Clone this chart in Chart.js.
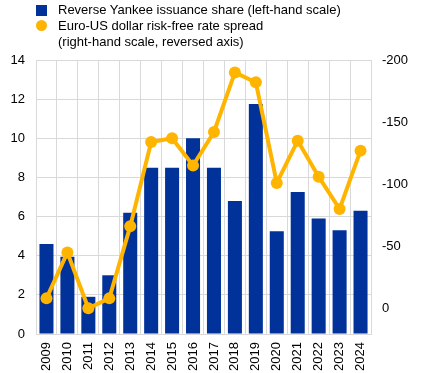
<!DOCTYPE html>
<html>
<head>
<meta charset="utf-8">
<script src="https://cdn.jsdelivr.net/npm/chart.js@4/dist/chart.umd.min.js"></script>
<style>
  html, body { margin: 0; padding: 0; background: #fff; }
  #wrap { position: relative; width: 437px; height: 373px; font-family: Arial, "Liberation Sans", sans-serif; }
  #legend { position: absolute; left: 0; top: 0; width: 437px; font-size: 13px; color: #000; }
  .item { position: absolute; left: 58px; line-height: 16px; white-space: nowrap; }
  .sq { position: absolute; width: 11px; height: 11px; background: #003299; left: 36px; top: 5px; }
  .dot { position: absolute; width: 11px; height: 11px; border-radius: 50%; background: #FFB400; left: 36px; top: 20px; }
  canvas { position: absolute; left: 0; top: 0; }
</style>
</head>
<body>
<div id="wrap">
  <canvas id="c" width="437" height="373"></canvas>
  <div id="legend">
    <div class="sq"></div>
    <div class="item" style="top:2px;">Reverse Yankee issuance share (left-hand scale)</div>
    <div class="dot"></div>
    <div class="item" style="top:18px;">Euro-US dollar risk-free rate spread<br>(right-hand scale, reversed axis)</div>
  </div>
</div>
<script>
const years = ["2009","2010","2011","2012","2013","2014","2015","2016","2017","2018","2019","2020","2021","2022","2023","2024"];
const yankeeShare = [4.6, 3.95, 1.9, 3.0, 6.2, 8.5, 8.5, 10.0, 8.5, 6.8, 11.75, 5.25, 7.25, 5.9, 5.3, 6.3];
const rateSpread = [-8, -45, 0, -8, -66, -134, -137, -115, -142, -190, -182, -101, -135, -106, -80, -127];
const leftTicks = [0, 2, 4, 6, 8, 10, 12, 14];
const rightTicks = [-200, -150, -100, -50, 0];

const FONT = { family: 'Arial, "Liberation Sans", sans-serif', size: 13 };

new Chart(document.getElementById('c'), {
  data: {
    labels: years,
    datasets: [
      {
        type: 'line',
        label: 'Euro-US dollar risk-free rate spread (right-hand scale, reversed axis)',
        data: rateSpread,
        yAxisID: 'y1',
        borderColor: '#FFB400',
        backgroundColor: '#FFB400',
        borderWidth: 4,
        pointRadius: 6,
        pointHoverRadius: 6,
        pointBackgroundColor: '#FFB400',
        pointBorderWidth: 0,
        tension: 0,
        order: 0
      },
      {
        type: 'bar',
        label: 'Reverse Yankee issuance share (left-hand scale)',
        data: yankeeShare,
        yAxisID: 'y',
        backgroundColor: '#003299',
        barPercentage: 0.67,
        categoryPercentage: 1.0,
        order: 1
      }
    ]
  },
  options: {
    responsive: false,
    animation: false,
    events: [],
    layout: { padding: { top: 60, left: 0, right: 0, bottom: 0 } },
    plugins: { legend: { display: false }, tooltip: { enabled: false } },
    scales: {
      x: {
        offset: true,
        grid: { color: '#d9d9d9', drawTicks: false, offset: true },
        border: { color: '#d9d9d9' },
        ticks: { color: '#000', font: FONT, maxRotation: 90, minRotation: 90, padding: 8, autoSkip: false },
        afterFit: (s) => { s.height = 39; }
      },
      y: {
        position: 'left',
        min: 0, max: 14,
        afterBuildTicks: (s) => { s.ticks = leftTicks.map(v => ({ value: v })); },
        grid: { color: '#d9d9d9', drawTicks: false },
        border: { color: '#d9d9d9' },
        ticks: { color: '#000', font: FONT, padding: 11 },
        afterFit: (s) => { s.width = 36; }
      },
      y1: {
        position: 'right',
        reverse: true,
        min: -200, max: 20.7,
        afterBuildTicks: (s) => { s.ticks = rightTicks.map(v => ({ value: v })); },
        grid: { display: false, drawTicks: false },
        border: { display: false },
        ticks: { color: '#000', font: FONT, padding: 11 },
        afterFit: (s) => { s.width = 66; }
      }
    }
  }
});
</script>
</body>
</html>
